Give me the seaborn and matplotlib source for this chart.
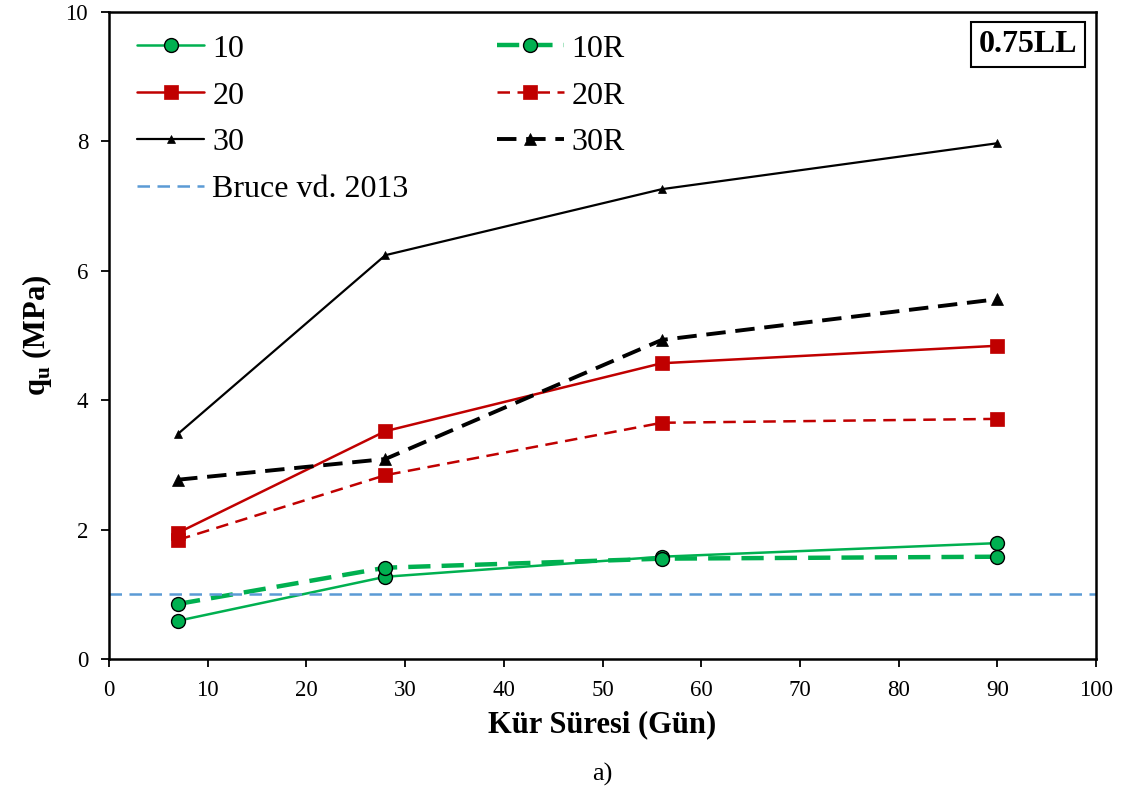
import numpy as np
import pandas as pd
import seaborn as sns
import matplotlib.pyplot as plt

days = [7, 28, 56, 90]
q10 = [0.59, 1.27, 1.58, 1.79]
q10r = [0.85, 1.41, 1.55, 1.58]
q20 = [1.95, 3.52, 4.57, 4.84]
q20r = [1.84, 2.84, 3.65, 3.71]
q30 = [3.48, 6.24, 7.26, 7.97]
q30r = [2.77, 3.09, 4.93, 5.56]
bruce = 1.0

sns.set_style('white', {'text.color': 'black', 'axes.labelcolor': 'black',
                        'xtick.color': 'black', 'ytick.color': 'black',
                        'axes.edgecolor': 'black'})
plt.rcParams['font.family'] = ['Liberation Serif', 'DejaVu Serif']
plt.rcParams['mathtext.fontset'] = 'custom'
plt.rcParams['mathtext.rm'] = 'Liberation Serif'
plt.rcParams['mathtext.bf'] = 'Liberation Serif:bold'

fig = plt.figure(figsize=(11.26, 7.92), dpi=100)
ax = fig.add_axes([0.0968, 0.168, 0.8766, 0.817])

green = '#00b050'
red = '#c00000'

# (label, values, colour, linestyle, linewidth, marker, markersize)
series = [
    ('10', q10, green, '-', 1.8, 'o', 10),
    ('20', q20, red, '-', 1.8, 's', 10),
    ('30', q30, 'black', '-', 1.6, '^', 6),
    ('10R', q10r, green, (0, (5, 2.5)), 3.2, 'o', 10),
    ('20R', q20r, red, (0, (5, 3)), 1.8, 's', 10),
    ('30R', q30r, 'black', (0, (5, 2.5)), 2.8, '^', 9),
]

handles = []
for label, vals, col, ls, lw, mk, ms in series:
    df = pd.DataFrame({'days': days, 'q': vals})
    sns.lineplot(data=df, x='days', y='q', ax=ax, color=col, linestyle=ls,
                 linewidth=lw, marker=mk, markersize=ms,
                 markeredgecolor='black' if mk == 'o' else col,
                 markeredgewidth=1.0 if mk == 'o' else 0.5,
                 label=label, legend=False)
    handles.append(ax.lines[-1])

bl = ax.axhline(bruce, color='#5b9bd5', linestyle=(0, (5, 3)), linewidth=1.8,
                label='Bruce vd. 2013')

order = [handles[0], handles[1], handles[2], bl, handles[3], handles[4], handles[5]]
ax.legend(handles=order, labels=[h.get_label() for h in order], ncol=2,
          loc='upper left', bbox_to_anchor=(0.006, 1.0), frameon=False,
          fontsize=23, handlelength=2.1, columnspacing=2.75, labelspacing=0.55,
          handletextpad=0.25, borderaxespad=0.3)

ax.text(0.981, 0.972, '0.75LL', transform=ax.transAxes, ha='right', va='top',
        fontsize=23, fontweight='bold',
        bbox=dict(boxstyle='square,pad=0.25', facecolor='white',
                  edgecolor='black', linewidth=1.5))

ax.set_xlim(0, 100)
ax.set_ylim(0, 10)
ax.set_xticks(np.arange(0, 101, 10))
ax.set_yticks(np.arange(0, 11, 2))
ax.tick_params(axis='both', labelsize=16.5, direction='out', length=6,
               width=1.3, bottom=True, left=True, pad=9)
for s in ax.spines.values():
    s.set_linewidth(1.8)

ax.set_xlabel('Kür Süresi (Gün)', fontsize=22, fontweight='bold', labelpad=7)
ax.set_ylabel(r'q$_\mathbf{u}$ (MPa)', fontsize=22, fontweight='bold', labelpad=8)
fig.text(0.535, 0.008, 'a)', ha='center', va='bottom', fontsize=19)

fig.savefig('out.png', dpi=100)
